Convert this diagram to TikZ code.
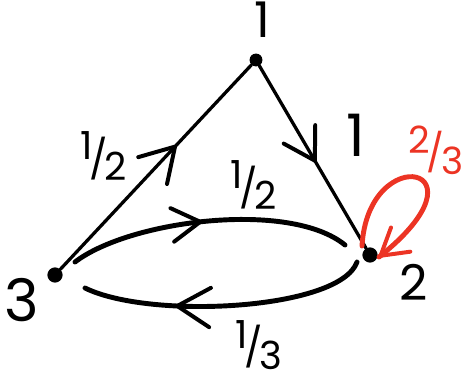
\documentclass[tikz,border=0pt]{standalone}
\usepackage{fontspec}
\setmainfont{Poppins}
\usetikzlibrary{arrows.meta,decorations.markings}
\definecolor{hred}{RGB}{236,52,36}
\newcommand\myfrac[2]{\raisebox{0.36em}{#1}\kern-0.1em/\kern-0.08em\raisebox{-0.2em}{#2}}
\tikzset{
  dot/.style={circle,fill=black,inner sep=0pt,minimum size=11pt},
  vlab/.style={font=\fontsize{42}{42}\selectfont},
  elab/.style={font=\fontsize{33}{33}\selectfont},
  barb/.style 2 args={postaction={decorate},decoration={markings,
     mark=at position #1 with {\draw[line width=3.4pt,line cap=round,line join=round] (-#2,0.6*#2) -- (0,0) -- (-#2,-0.6*#2);}}},
  edge/.style={line width=2.8pt,line cap=round},
  curve/.style={line width=4.2pt,line cap=round}
}
\begin{document}
\begin{tikzpicture}[x=0.03cm,y=-0.03cm]
\useasboundingbox (0,0) rectangle (475,389);
\node[dot] (n1) at (256,60) {};
\node[dot,minimum size=13pt] (n2) at (370,255) {};
\node[dot,minimum size=13pt] (n3) at (55,275) {};
\node[vlab] (l1) at (262,20) {1};
\node[vlab] (l2) at (414,282) {2};
\node[vlab,font=\fontsize{50}{50}\selectfont] (l3) at (22,300) {3};
% straight edges
\draw[edge,barb={0.6}{28pt}] (n3) -- (n1);
\draw[edge,barb={0.52}{26pt}] (n1) -- (n2);
\node[elab] (e31) at (104,156) {\myfrac12};
\node[elab,font=\fontsize{50}{50}\selectfont] (e12) at (356,135) {1};
% curves
\coordinate (a3) at (75,262);
\coordinate (a2) at (345,245);
\draw[curve,barb={0.47}{24pt}] (a3) .. controls (130,220) and (290,200) .. (a2);
\node[elab] (e32) at (254,185) {\myfrac12};
\coordinate (b2) at (357,262);
\coordinate (b3) at (85,288);
\draw[curve,barb={0.67}{28pt}] (b2) .. controls (340,310) and (150,320) .. (b3);
\node[elab] (e23) at (259,345) {\myfrac13};
% self loop
\coordinate (s1) at (362,246);
\coordinate (s2) at (379,257);
\draw[curve,color=hred,barb={0.99}{22pt}] (s1) .. controls (368,140) and (495,165) .. (s2);
\node[elab,text=hred,font=\fontsize{32}{32}\selectfont] (e22) at (436,150) {\myfrac23};
\end{tikzpicture}
\end{document}
